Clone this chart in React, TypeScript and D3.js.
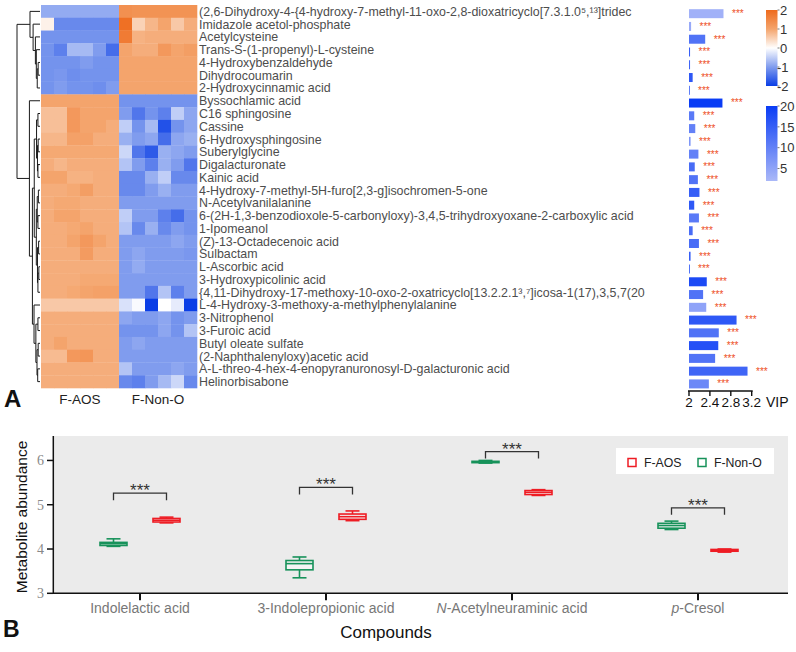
import React from "react";
import * as d3 from "d3";

// ---------------- Panel A data ----------------
const metabolites = [
  "(2,6-Dihydroxy-4-{4-hydroxy-7-methyl-11-oxo-2,8-dioxatricyclo[7.3.1.0⁵,¹³]tridec",
  "Imidazole acetol-phosphate",
  "Acetylcysteine",
  "Trans-S-(1-propenyl)-L-cysteine",
  "4-Hydroxybenzaldehyde",
  "Dihydrocoumarin",
  "2-Hydroxycinnamic acid",
  "Byssochlamic acid",
  "C16 sphingosine",
  "Cassine",
  "6-Hydroxysphingosine",
  "Suberylglycine",
  "Digalacturonate",
  "Kainic acid",
  "4-Hydroxy-7-methyl-5H-furo[2,3-g]isochromen-5-one",
  "N-Acetylvanilalanine",
  "6-(2H-1,3-benzodioxole-5-carbonyloxy)-3,4,5-trihydroxyoxane-2-carboxylic acid",
  "1-Ipomeanol",
  "(Z)-13-Octadecenoic acid",
  "Sulbactam",
  "L-Ascorbic acid",
  "3-Hydroxypicolinic acid",
  "{4,11-Dihydroxy-17-methoxy-10-oxo-2-oxatricyclo[13.2.2.1³,⁷]icosa-1(17),3,5,7(20",
  "L-4-Hydroxy-3-methoxy-a-methylphenylalanine",
  "3-Nitrophenol",
  "3-Furoic acid",
  "Butyl oleate sulfate",
  "(2-Naphthalenyloxy)acetic acid",
  "A-L-threo-4-hex-4-enopyranuronosyl-D-galacturonic acid",
  "Helinorbisabone",
];

const heatGroups = ["F-AOS", "F-Non-O"];
const samples = [
  "F-AOS-1", "F-AOS-2", "F-AOS-3", "F-AOS-4", "F-AOS-5", "F-AOS-6",
  "F-Non-O-1", "F-Non-O-2", "F-Non-O-3", "F-Non-O-4", "F-Non-O-5", "F-Non-O-6",
];

const zScores: number[][] = [
  [-0.85, -0.85, -0.85, -0.85, -0.85, -0.85, 1.35, 1.3, 1.3, 1.3, 1.3, 1.3],
  [0.15, -1.2, -1.2, -1.2, -1.2, -1.2, 1.9, 0.5, 0.8, 1.0, 0.6, 0.9],
  [-1.1, -1.1, -1.1, -1.1, -1.1, -1.1, 1.7, 0.85, 0.9, 0.9, 0.9, 0.9],
  [-1.1, -1.3, -0.7, -0.7, -1.0, -1.5, 1.0, 0.9, 0.9, 1.2, 1.0, 1.1],
  [-1.1, -1.1, -1.1, -1.0, -1.1, -1.1, 1.0, 1.0, 1.0, 1.0, 1.0, 1.0],
  [-1.1, -1.05, -1.15, -1.1, -1.1, -1.1, 1.0, 1.0, 1.0, 1.0, 1.0, 1.0],
  [-1.1, -1.0, -1.1, -1.1, -1.15, -1.0, 1.0, 1.0, 1.0, 1.0, 1.0, 1.0],
  [1.0, 1.0, 1.0, 1.0, 1.0, 1.0, -1.1, -1.1, -1.1, -1.1, -1.1, -1.1],
  [0.7, 0.7, 1.2, 1.0, 1.0, 1.0, -1.0, -1.4, -1.1, -1.3, -0.5, -0.9],
  [0.7, 0.7, 1.2, 1.0, 1.0, 0.9, -0.5, -1.1, -0.7, -1.8, -1.1, -0.9],
  [0.8, 0.8, 1.05, 1.05, 0.9, 0.9, -0.8, -1.0, -0.9, -1.5, -0.9, -0.8],
  [0.95, 0.95, 0.95, 0.95, 0.95, 0.95, -0.4, -1.4, -1.7, -0.8, -0.9, -1.0],
  [0.9, 0.8, 0.9, 0.9, 0.9, 0.9, -0.6, -1.0, -1.3, -0.8, -1.0, -1.4],
  [1.0, 1.0, 0.85, 0.85, 0.9, 0.9, -1.2, -1.2, -0.8, -0.5, -1.2, -1.2],
  [0.9, 0.9, 0.95, 1.1, 0.9, 0.9, -1.2, -1.2, -1.0, -0.8, -1.0, -1.0],
  [0.9, 0.95, 0.95, 0.9, 0.9, 0.9, -1.0, -1.0, -1.0, -1.0, -1.0, -1.0],
  [0.9, 1.0, 1.0, 0.9, 0.9, 0.9, -0.5, -1.0, -1.0, -1.3, -1.5, -1.1],
  [0.9, 0.9, 0.95, 1.0, 0.9, 0.9, -0.6, -1.2, -0.8, -1.2, -1.0, -1.1],
  [0.9, 0.9, 1.0, 1.2, 1.0, 0.9, -1.0, -1.0, -1.0, -1.0, -0.9, -1.0],
  [0.9, 0.9, 0.9, 1.15, 0.9, 0.9, -1.0, -0.9, -1.0, -1.0, -1.0, -1.05],
  [0.9, 0.9, 0.9, 0.9, 0.9, 0.9, -1.0, -0.85, -1.0, -1.0, -1.0, -1.0],
  [0.9, 0.9, 0.9, 0.95, 0.95, 0.95, -1.0, -1.0, -1.0, -1.0, -1.0, -1.0],
  [0.9, 0.9, 0.95, 1.0, 1.05, 1.05, -1.0, -1.0, -1.4, -0.6, -1.3, -1.0],
  [0.6, 0.6, 0.6, 0.6, 0.6, 0.6, -0.3, -0.05, -2.0, 0.0, -0.2, -2.0],
  [0.9, 0.9, 0.9, 0.9, 0.9, 0.9, -0.9, -1.0, -1.0, -0.9, -1.1, -1.0],
  [0.9, 0.9, 0.9, 0.9, 0.9, 0.9, -1.1, -1.1, -1.1, -0.9, -1.1, -0.6],
  [0.9, 1.0, 0.9, 0.9, 0.9, 0.9, -1.0, -0.9, -1.0, -1.0, -1.0, -1.0],
  [0.75, 0.75, 1.2, 1.25, 0.9, 0.9, -1.0, -1.0, -1.0, -1.0, -1.0, -1.0],
  [0.9, 0.9, 0.9, 0.9, 0.9, 0.9, -0.6, -1.0, -1.0, -1.0, -0.9, -1.0],
  [0.9, 0.9, 0.9, 0.9, 0.9, 0.9, -1.2, -1.3, -1.0, -0.7, -0.4, -1.2],
];

const vipScores = [
  2.66, 2.04, 2.31, 2.02, 2.02, 2.07, 2.01, 2.64, 2.1, 2.12,
  2.03, 2.18, 2.11, 2.17, 2.2, 2.1, 2.19, 2.07, 2.19, 2.03,
  2.01, 2.34, 2.27, 2.33, 2.91, 2.57, 2.56, 2.5, 3.12, 2.38,
];
const vipColorValues = [
  3, 4, 12, 15, 14, 16, 15, 20, 11, 10,
  7, 10, 13, 12, 15, 16, 11, 13, 13, 15,
  17, 18, 12, 5, 16, 12, 17, 12, 14, 9,
];
const vipSignificance = Array(30).fill("***");
const vipTicks = [2, 2.4, 2.8, 3.2];
const zLegendTicks = [2, 1, 0, -1, -2];
const vipLegendTicks = [20, 15, 10, 5];

type TreeNode = number | { d: number; c: [TreeNode, TreeNode] };
const rowTree: TreeNode = {
  d: 10,
  c: [
    { d: 4.35, c: [0, { d: 3.0, c: [1, { d: 2.0, c: [2, { d: 1.6, c: [3, { d: 1.2, c: [{ d: 0.8, c: [4, 5] }, 6] }] }] }] }] },
    {
      d: 4.6,
      c: [
        7,
        {
          d: 3.3,
          c: [
            {
              d: 2.5,
              c: [
                { d: 1.5, c: [{ d: 0.9, c: [8, 9] }, { d: 1.1, c: [{ d: 0.8, c: [10, 11] }, { d: 0.9, c: [12, 13] }] }] },
                {
                  d: 1.6,
                  c: [
                    { d: 1.2, c: [{ d: 0.7, c: [14, 15] }, { d: 0.9, c: [16, 17] }] },
                    { d: 1.1, c: [{ d: 0.6, c: [18, 19] }, { d: 0.9, c: [{ d: 0.5, c: [20, 21] }, 22] }] },
                  ],
                },
              ],
            },
            { d: 2.6, c: [23, { d: 1.8, c: [{ d: 0.9, c: [24, 25] }, { d: 1.3, c: [{ d: 0.8, c: [26, 27] }, { d: 1.0, c: [28, 29] }] }] }] },
          ],
        },
      ],
    },
  ],
};

// ---------------- Panel B data ----------------
const compounds = ["Indolelactic acid", "3-Indolepropionic acid", "N-Acetylneuraminic acid", "p-Cresol"];
const compoundItalic = ["", "", "N", "p"];
const compoundRest = ["Indolelactic acid", "3-Indolepropionic acid", "-Acetylneuraminic acid", "-Cresol"];
const boxGroups = ["F-AOS", "F-Non-O"];
// [low, q1, median, q3, high]
const boxAOS = [
  [4.59, 4.61, 4.65, 4.69, 4.72],
  [4.64, 4.67, 4.73, 4.79, 4.86],
  [5.21, 5.23, 5.28, 5.32, 5.34],
  [3.93, 3.95, 3.97, 3.99, 4.0],
];
const boxNonO = [
  [4.06, 4.08, 4.12, 4.15, 4.23],
  [3.35, 3.53, 3.67, 3.74, 3.82],
  [5.94, 5.95, 5.97, 5.98, 6.0],
  [4.44, 4.47, 4.53, 4.58, 4.63],
];
const bracketLevels = [5.26, 5.39, 6.2, 4.93];
const bracketLabels = ["***", "***", "***", "***"];
const abundanceTicks = [3, 4, 5, 6];

const SANS = "'Liberation Sans', Arial, Helvetica, sans-serif";
const SERIF = "'Liberation Serif', 'Times New Roman', serif";

export default function App() {
  // Heatmap scales
  const rowBand = d3.scaleBand<number>().domain(d3.range(metabolites.length)).range([5, 388]);
  const colBand = d3.scaleBand<string>().domain(samples).range([41, 197]);
  const heatColor = d3
    .scaleLinear<string>()
    .domain([-2, -1, 0, 1, 2])
    .range(["#0a3ee6", "#809cee", "#ffffff", "#f4a46c", "#ee6a1c"])
    .clamp(true);
  const rowCenter = (i: number) => (rowBand(i) as number) + rowBand.bandwidth() / 2;

  // Dendrogram
  const dendroX = d3.scaleLinear().domain([0, 10]).range([40, 17]);
  const dendroPaths: string[] = [];
  const layout = (n: TreeNode): { x: number; y: number } => {
    if (typeof n === "number") return { x: dendroX(0), y: rowCenter(n) };
    const a = layout(n.c[0]);
    const b = layout(n.c[1]);
    const x = dendroX(n.d);
    dendroPaths.push(`M${a.x},${a.y}H${x}V${b.y}H${b.x}`);
    return { x, y: (a.y + b.y) / 2 };
  };
  layout(rowTree);

  // VIP
  const vipX = d3.scaleLinear().domain([2, 3.2]).range([689, 751.7]);
  const vipColor = d3.scaleLinear<string>().domain([2, 20]).range(["#aab8f8", "#0a3cf5"]);
  const barOffset = 2.3;
  const barH = 9;

  // Legends
  const zLegY = d3.scaleLinear().domain([2, -2]).range([10, 86]);
  const vipLegY = d3.scaleLinear().domain([20, 2]).range([106, 181]);

  // Panel B
  const yAb = d3.scaleLinear().domain([3, 6.5]).range([593.3, 438.3]);
  const xCat = d3.scalePoint<string>().domain(compounds).range([140, 698]);
  const groupOffset = d3.scalePoint<string>().domain(["F-Non-O", "F-AOS"]).range([-26.5, 26.5]);
  const boxW = 27;
  const groupColor: Record<string, string> = { "F-AOS": "#ee1c24", "F-Non-O": "#17925a" };

  const drawBox = (stats: number[], cx: number, color: string, key: string) => {
    const [lo, q1, med, q3, hi] = stats;
    return (
      <g key={key} stroke={color} strokeWidth={1.6} fill="none">
        <line x1={cx} x2={cx} y1={yAb(q3)} y2={yAb(hi)} />
        <line x1={cx} x2={cx} y1={yAb(q1)} y2={yAb(lo)} />
        <line x1={cx - 7} x2={cx + 7} y1={yAb(hi)} y2={yAb(hi)} />
        <line x1={cx - 7} x2={cx + 7} y1={yAb(lo)} y2={yAb(lo)} />
        <rect x={cx - boxW / 2} y={yAb(q3)} width={boxW} height={Math.max(yAb(q1) - yAb(q3), 1)} fill="rgba(255,255,255,0.45)" />
        <line x1={cx - boxW / 2} x2={cx + boxW / 2} y1={yAb(med)} y2={yAb(med)} />
      </g>
    );
  };

  return (
    <svg width={796} height={652} style={{ position: "absolute", left: 0, top: 0, background: "#fff" }} fontFamily={SANS}>
      <defs>
        <linearGradient id="zgrad" x1="0" y1="0" x2="0" y2="1">
          {zLegendTicks.map((t, i) => (
            <stop key={i} offset={`${(i / (zLegendTicks.length - 1)) * 100}%`} stopColor={heatColor(t)} />
          ))}
        </linearGradient>
        <linearGradient id="vgrad" x1="0" y1="0" x2="0" y2="1">
          <stop offset="0%" stopColor={vipColor(20)} />
          <stop offset="100%" stopColor={vipColor(2)} />
        </linearGradient>
        <clipPath id="labclip">
          <rect x={195} y={0} width={472} height={400} />
        </clipPath>
      </defs>

      {/* Dendrogram */}
      <g stroke="#1a1a1a" strokeWidth={1} fill="none">
        {dendroPaths.map((p, i) => (
          <path key={i} d={p} />
        ))}
      </g>

      {/* Heatmap */}
      <g>
        {zScores.map((row, i) =>
          row.map((v, j) => (
            <rect
              key={`${i}-${j}`}
              x={colBand(samples[j])}
              y={rowBand(i)}
              width={colBand.bandwidth() + 0.3}
              height={rowBand.bandwidth() + 0.3}
              fill={heatColor(v)}
            />
          ))
        )}
      </g>

      {/* Row labels */}
      <g clipPath="url(#labclip)" fontSize={12.4} fill="#4d4d4d">
        {metabolites.map((m, i) => (
          <text key={i} x={199} y={rowCenter(i)} dy="0.36em">
            {m}
          </text>
        ))}
      </g>

      {/* Group labels */}
      <g fontSize={13.5} fill="#222" textAnchor="middle">
        {heatGroups.map((g, k) => {
          const first = colBand(samples[k * 6]) as number;
          const last = (colBand(samples[k * 6 + 5]) as number) + colBand.bandwidth();
          return (
            <text key={g} x={(first + last) / 2} y={404}>
              {g}
            </text>
          );
        })}
      </g>
      <text x={4} y={407} fontSize={24} fontWeight="bold" fill="#111">
        A
      </text>

      {/* VIP bars */}
      <g>
        {vipScores.map((v, i) => (
          <rect
            key={i}
            x={vipX(2)}
            y={rowCenter(i) + barOffset - barH / 2}
            width={Math.max(vipX(v) - vipX(2), 0.8)}
            height={barH}
            fill={vipColor(vipColorValues[i])}
          />
        ))}
      </g>
      <g fontSize={10} fill="#ee4f1e">
        {vipScores.map((v, i) => (
          <text key={i} x={vipX(v) + 8.5} y={rowCenter(i) + barOffset + 3.4}>
            {vipSignificance[i]}
          </text>
        ))}
      </g>
      {/* VIP axis */}
      <g stroke="#111" strokeWidth={1.4}>
        <line x1={vipX(2) - 1} x2={vipX(3.2) + 1} y1={391} y2={391} />
        {vipTicks.map((t) => (
          <line key={t} x1={vipX(t)} x2={vipX(t)} y1={391} y2={396} />
        ))}
      </g>
      <g fontSize={13.5} fill="#111" textAnchor="middle">
        {vipTicks.map((t) => (
          <text key={t} x={vipX(t)} y={407}>
            {t}
          </text>
        ))}
        <text x={766} y={407} textAnchor="start" fontSize={14}>
          VIP
        </text>
      </g>

      {/* z-score legend */}
      <rect x={766} y={zLegY(2)} width={11.5} height={zLegY(-2) - zLegY(2)} fill="url(#zgrad)" />
      <g fontSize={13} fill="#333">
        {zLegendTicks.map((t) => (
          <g key={t}>
            <line x1={777.5} x2={779.5} y1={zLegY(t)} y2={zLegY(t)} stroke="#555" strokeWidth={0.8} />
            <text x={t < 0 ? 777 : 780} y={zLegY(t)} dy="0.36em">
              {t < 0 ? `-${Math.abs(t)}` : t}
            </text>
          </g>
        ))}
      </g>

      {/* VIP colour legend */}
      <rect x={766} y={vipLegY(20)} width={11.5} height={vipLegY(2) - vipLegY(20)} fill="url(#vgrad)" />
      <g fontSize={13} fill="#333">
        {vipLegendTicks.map((t) => (
          <g key={t}>
            <line x1={777.5} x2={779.5} y1={vipLegY(t)} y2={vipLegY(t)} stroke="#555" strokeWidth={0.8} />
            <text x={780} y={vipLegY(t)} dy="0.36em">
              {t}
            </text>
          </g>
        ))}
      </g>

      {/* ---------------- Panel B ---------------- */}
      <rect x={53} y={436} width={735} height={yAb(3) - 436} fill="#ebebeb" />
      <g stroke="#111" strokeWidth={1.5}>
        <line x1={53.3} x2={53.3} y1={436} y2={yAb(3)} />
        <line x1={53} x2={788} y1={yAb(3)} y2={yAb(3)} />
        {abundanceTicks.map((t) => (
          <line key={t} x1={47} x2={53} y1={yAb(t)} y2={yAb(t)} />
        ))}
        {compounds.map((c) => (
          <line key={c} x1={xCat(c)} x2={xCat(c)} y1={yAb(3)} y2={yAb(3) + 7} strokeWidth={2} />
        ))}
      </g>
      <g fontFamily={SERIF} fontSize={14} fill="#888" textAnchor="end">
        {abundanceTicks.map((t) => (
          <text key={t} x={44} y={yAb(t)} dy="0.35em">
            {t}
          </text>
        ))}
      </g>
      <g fontSize={14} fill="#777" textAnchor="middle">
        {compounds.map((c, i) => (
          <text key={c} x={xCat(c)} y={613}>
            {compoundItalic[i] && <tspan fontStyle="italic">{compoundItalic[i]}</tspan>}
            <tspan>{compoundRest[i]}</tspan>
          </text>
        ))}
      </g>
      <text x={386} y={638} fontSize={17} fill="#111" textAnchor="middle">
        Compounds
      </text>
      <text transform="translate(27,517) rotate(-90)" fontSize={15.5} fill="#111" textAnchor="middle">
        Metabolite abundance
      </text>
      <text x={3} y={637} fontSize={23} fontWeight="bold" fill="#111">
        B
      </text>

      {/* boxes */}
      {compounds.map((c, i) => (
        <g key={c}>
          {drawBox(boxNonO[i], (xCat(c) as number) + (groupOffset("F-Non-O") as number), groupColor["F-Non-O"], "n")}
          {drawBox(boxAOS[i], (xCat(c) as number) + (groupOffset("F-AOS") as number), groupColor["F-AOS"], "a")}
        </g>
      ))}

      {/* significance brackets */}
      {compounds.map((c, i) => {
        const x1 = (xCat(c) as number) + (groupOffset("F-Non-O") as number);
        const x2 = (xCat(c) as number) + (groupOffset("F-AOS") as number);
        const y = yAb(bracketLevels[i]);
        return (
          <g key={c}>
            <path d={`M${x1},${y + 7}V${y}H${x2}V${y + 7}`} fill="none" stroke="#333" strokeWidth={1.3} />
            <text x={(x1 + x2) / 2} y={y + 3} fontSize={17} fill="#333" textAnchor="middle">
              {bracketLabels[i]}
            </text>
          </g>
        );
      })}

      {/* legend */}
      <rect x={616} y={448} width={158} height={26} fill="#fff" />
      {boxGroups.map((g, k) => (
        <g key={g} transform={`translate(${628 + k * 70},${457})`}>
          <rect x={0} y={1.5} width={8} height={8} fill="none" stroke={groupColor[g]} strokeWidth={1.5} />
          <text x={16} y={10} fontSize={12.3} fill="#222">
            {g}
          </text>
        </g>
      ))}
    </svg>
  );
}
